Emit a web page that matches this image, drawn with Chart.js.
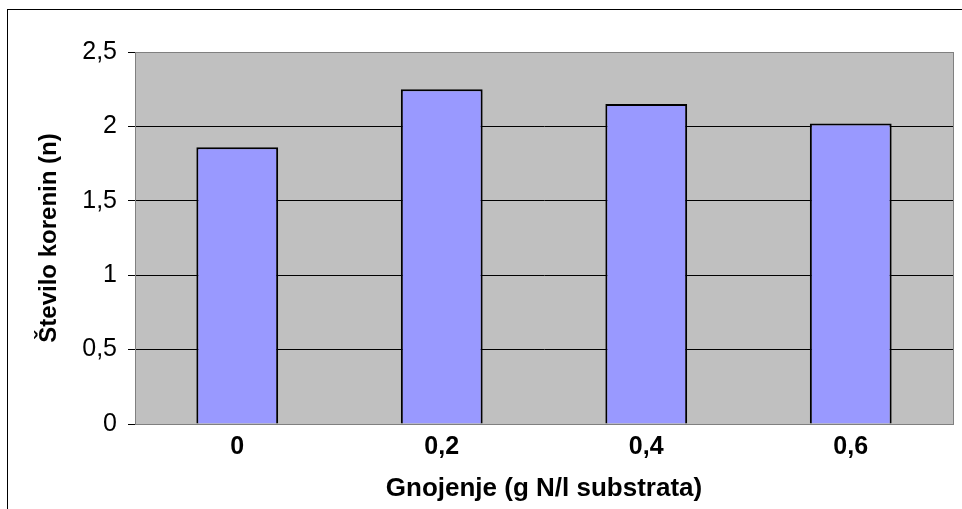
<!DOCTYPE html>
<html>
<head>
<meta charset="utf-8">
<script src="https://cdn.jsdelivr.net/npm/chart.js@4"></script>
<style>
  html, body { margin: 0; padding: 0; background: #fff; }
  #wrap { width: 962px; height: 509px; position: relative; }
</style>
</head>
<body>
<div id="wrap"><canvas id="chart"></canvas></div>
<script>
// Data
const categories = ['0', '0,2', '0,4', '0,6'];
const rootCount = [1.86, 2.25, 2.15, 2.02];
const yTicks = [0, 0.5, 1, 1.5, 2, 2.5];

const fontFamily = 'Arial, "Liberation Sans", sans-serif';

// Grey plot area with thin frame, plus the outer chart border
const frame = {
    id: 'frame',
    beforeDraw(chart) {
        const { ctx, chartArea: a } = chart;
        ctx.save();
        ctx.strokeStyle = '#000';
        ctx.lineWidth = 1;
        ctx.strokeRect(7.5, 9.5, 1200, 1200);
        ctx.fillStyle = '#C0C0C0';
        ctx.fillRect(a.left, a.top, a.right - a.left, a.bottom - a.top);
        ctx.restore();
    },
    beforeDatasetsDraw(chart) {
        const { ctx, chartArea: a } = chart;
        ctx.save();
        ctx.strokeStyle = '#808080';
        ctx.lineWidth = 1;
        ctx.strokeRect(Math.round(a.left) + 0.5, Math.round(a.top) + 0.5,
            Math.round(a.right - a.left), Math.round(a.bottom - a.top));
        ctx.restore();
    }
};

new Chart(document.getElementById('chart'), {
    type: 'bar',
    data: {
        labels: categories,
        datasets: [{
            data: rootCount,
            backgroundColor: '#9999FF',
            borderColor: '#000',
            borderWidth: 2,
            categoryPercentage: 1,
            barPercentage: 0.4
        }]
    },
    options: {
        responsive: true,
        maintainAspectRatio: false,
        animation: false,
        layout: { padding: { top: 52, right: 9, left: 0, bottom: 0 } },
        plugins: { legend: { display: false }, tooltip: { enabled: false } },
        scales: {
            x: {
                grid: { display: false, drawTicks: false },
                border: { display: false },
                ticks: {
                    padding: 8,
                    color: '#000',
                    font: { family: fontFamily, size: 25, weight: 'bold' }
                },
                title: {
                    display: true,
                    text: 'Gnojenje (g N/l substrata)',
                    color: '#000',
                    font: { family: fontFamily, size: 26, weight: 'bold' },
                    padding: { top: 0, bottom: 5 }
                },
                afterFit(scale) { scale.height = 85; }
            },
            y: {
                min: 0,
                max: 2.5,
                afterBuildTicks(scale) { scale.ticks = yTicks.map(v => ({ value: v })); },
                grid: {
                    color: c => (c.index === 0 || c.index === yTicks.length - 1) ? '#808080' : '#000',
                    tickColor: '#000',
                    tickLength: 7,
                    lineWidth: 1
                },
                border: { display: true, color: '#808080' },
                ticks: {
                    padding: 11,
                    color: '#000',
                    font: { family: fontFamily, size: 25 },
                    callback: v => String(v).replace('.', ',')
                },
                title: {
                    display: true,
                    text: 'Število korenin (n)',
                    color: '#000',
                    font: { family: fontFamily, size: 24, weight: 'bold' },
                    padding: { top: 35, bottom: 0 }
                },
                afterFit(scale) { scale.width = 135; }
            }
        }
    },
    plugins: [frame]
});
</script>
</body>
</html>
